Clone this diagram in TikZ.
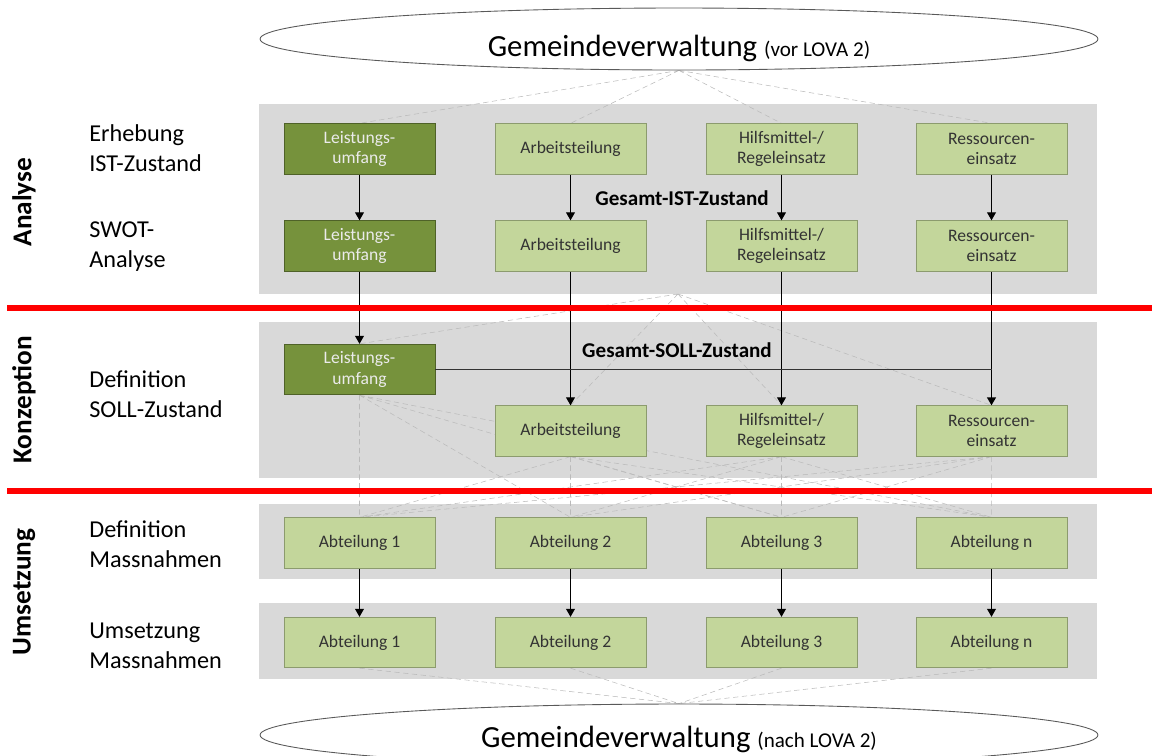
\documentclass[tikz,border=0pt]{standalone}
\usepackage{fontspec}
\setmainfont{Carlito}
\usetikzlibrary{shapes.geometric,arrows.meta,backgrounds}

\definecolor{panelgray}{HTML}{D9D9D9}
\definecolor{darkolive}{HTML}{76923C}
\definecolor{darkoliveline}{HTML}{4F6228}
\definecolor{lightolive}{HTML}{C3D69B}
\definecolor{lightoliveline}{HTML}{8C9B6E}
\definecolor{webgray}{HTML}{BABABA}
\definecolor{boxtext}{HTML}{333333}

\begin{document}
\begin{tikzpicture}[x=0.02cm, y=-0.02cm,
        panel/.style={fill=panelgray},
        darkbox/.style={draw=darkoliveline, fill=darkolive, text=white!92!black, line width=0.5pt,
            minimum width=3.02cm, minimum height=1.01cm, align=center, font=\fontsize{10}{11.5}\selectfont},
        lightbox/.style={darkbox, draw=lightoliveline, fill=lightolive, text=boxtext},
        web/.style={draw=webgray, densely dashed, line width=0.3pt},
        flow/.style={-{Triangle[length=4.5pt,width=5pt]}, line width=0.6pt},
        phase/.style={rotate=90, font=\bfseries\fontsize{15.5}{18}\selectfont},
        rowlabel/.style={anchor=west, align=left, inner xsep=0pt, font=\fontsize{13.8}{17}\selectfont},
        sumlabel/.style={font=\bfseries\fontsize{12}{14}\selectfont},
        divider/.style={red, line width=3pt},
        admin/.style={ellipse, draw=black!65, line width=0.5pt, minimum width=16.76cm, minimum height=1.24cm, inner sep=0pt}]

        \clip (0,0) rectangle (1152,755);

        % Gemeindeverwaltung
        \node[admin] (vorLova) at (679,39) {};
        \node[anchor=base] (vorText) at (679,56) {\fontsize{17.5}{20}\selectfont Gemeindeverwaltung {\fontsize{12}{14}\selectfont (vor LOVA 2)}};
        \node[admin] (nachLova) at (679,735) {};
        \node[anchor=base] (nachText) at (679,747) {\fontsize{17.5}{20}\selectfont Gemeindeverwaltung {\fontsize{12}{14}\selectfont (nach LOVA 2)}};

        % Analyse
        \node[darkbox] (ist1) at (359.5,149) {Leistungs-\\umfang};
        \node[lightbox] (ist2) at (570.5,149) {Arbeitsteilung};
        \node[lightbox] (ist3) at (781.5,149) {Hilfsmittel-/\\Regeleinsatz};
        \node[lightbox] (ist4) at (991.5,149) {Ressourcen-\\einsatz};

        \node[darkbox] (swot1) at (359.5,246) {Leistungs-\\umfang};
        \node[lightbox] (swot2) at (570.5,246) {Arbeitsteilung};
        \node[lightbox] (swot3) at (781.5,246) {Hilfsmittel-/\\Regeleinsatz};
        \node[lightbox] (swot4) at (991.5,246) {Ressourcen-\\einsatz};

        % Konzeption
        \node[darkbox] (soll1) at (359.5,369.5) {Leistungs-\\umfang};
        \node[lightbox] (soll2) at (570.5,431) {Arbeitsteilung};
        \node[lightbox] (soll3) at (781.5,431) {Hilfsmittel-/\\Regeleinsatz};
        \node[lightbox] (soll4) at (991.5,431) {Ressourcen-\\einsatz};

        % Umsetzung
        \node[lightbox] (mass1) at (359.5,543) {Abteilung 1};
        \node[lightbox] (mass2) at (570.5,543) {Abteilung 2};
        \node[lightbox] (mass3) at (781.5,543) {Abteilung 3};
        \node[lightbox] (mass4) at (991.5,543) {Abteilung n};

        \node[lightbox] (ums1) at (359.5,642.5) {Abteilung 1};
        \node[lightbox] (ums2) at (570.5,642.5) {Abteilung 2};
        \node[lightbox] (ums3) at (781.5,642.5) {Abteilung 3};
        \node[lightbox] (ums4) at (991.5,642.5) {Abteilung n};

        % labels
        \node[phase] (analysePhase) at (24,202) {Analyse};
        \node[phase] (konzeptionPhase) at (24,400) {Konzeption};
        \node[phase] (umsetzungPhase) at (24,592) {Umsetzung};

        \node[rowlabel] (erhebung) at (89,148) {Erhebung\\IST-Zustand};
        \node[rowlabel] (swot) at (89,247) {SWOT-\\Analyse};
        \node[rowlabel] (definitionSoll) at (89,394) {Definition\\SOLL-Zustand};
        \node[rowlabel] (definitionMass) at (89,544) {Definition\\Massnahmen};
        \node[rowlabel] (umsetzungMass) at (89,646) {Umsetzung\\Massnahmen};

        \node[sumlabel] (istSum) at (682,198) {Gesamt-IST-Zustand};
        \node[sumlabel] (sollSum) at (677,350) {Gesamt-SOLL-Zustand};

        \begin{scope}[on background layer]
            \fill[panel] (259,104) rectangle (1097,294);
            \fill[panel] (259,322) rectangle (1097,478);
            \fill[panel] (259,504) rectangle (1097,579);
            \fill[panel] (259,603) rectangle (1097,679);
            \coordinate (analyseBottom) at (678,294);

            \draw[web] (vorLova.south) -- (ist1.north) (vorLova.south) -- (ist2.north)
                (vorLova.south) -- (ist3.north) (vorLova.south) -- (ist4.north);
            \draw[web] (analyseBottom) -- (soll1.north) (analyseBottom) -- (soll2.north)
                (analyseBottom) -- (soll3.north) (analyseBottom) -- (soll4.north);
            \draw[web] (soll1.south) -- (mass1.north) (soll1.south) -- (mass2.north)
                (soll1.south) -- (mass3.north) (soll1.south) -- (mass4.north);
            \draw[web] (soll2.south) -- (mass1.north) (soll2.south) -- (mass2.north)
                (soll2.south) -- (mass3.north) (soll2.south) -- (mass4.north);
            \draw[web] (soll3.south) -- (mass1.north) (soll3.south) -- (mass2.north)
                (soll3.south) -- (mass3.north) (soll3.south) -- (mass4.north);
            \draw[web] (soll4.south) -- (mass1.north) (soll4.south) -- (mass2.north)
                (soll4.south) -- (mass3.north) (soll4.south) -- (mass4.north);
            \draw[web] (ums1.south) -- (nachLova.north) (ums2.south) -- (nachLova.north)
                (ums3.south) -- (nachLova.north) (ums4.south) -- (nachLova.north);
        \end{scope}

        % Pfeile
        \draw[flow] (ist1) -- (swot1);
        \draw[flow] (ist2) -- (swot2);
        \draw[flow] (ist3) -- (swot3);
        \draw[flow] (ist4) -- (swot4);

        \draw[flow] (swot1) -- (soll1);
        \draw[flow] (swot2) -- (soll2);
        \draw[flow] (swot3) -- (soll3);
        \draw[flow, line width=0.9pt] (swot4) -- (soll4);
        \draw[line width=0.6pt, black!80] (soll1.east) -- (soll1.east -| soll4.north);

        \draw[flow] (mass1) -- (ums1);
        \draw[flow] (mass2) -- (ums2);
        \draw[flow] (mass3) -- (ums3);
        \draw[flow] (mass4) -- (ums4);

        % Phasengrenzen
        \draw[divider] (7,308) -- (1152,308);
        \draw[divider] (7,491) -- (1152,491);

\end{tikzpicture}
\end{document}
